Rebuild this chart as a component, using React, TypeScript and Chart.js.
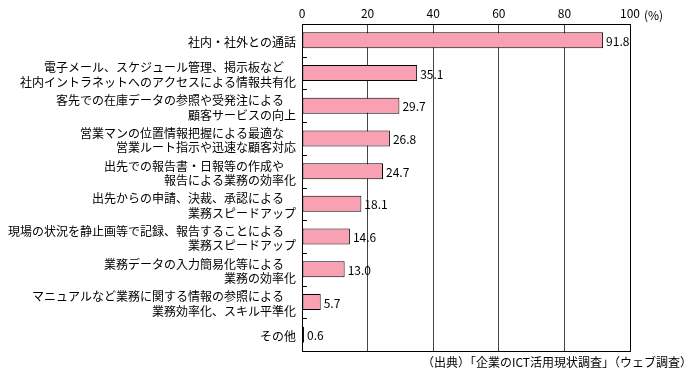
import React, { useEffect, useRef } from "react";
import { Chart, registerables } from "chart.js";

Chart.register(...registerables);

const categories: string[][] = [
  ["社内・社外との通話"],
  ["電子メール、スケジュール管理、掲示板など　", "社内イントラネットへのアクセスによる情報共有化"],
  ["客先での在庫データの参照や受発注による　", "顧客サービスの向上"],
  ["営業マンの位置情報把握による最適な　", "営業ルート指示や迅速な顧客対応"],
  ["出先での報告書・日報等の作成や　", "報告による業務の効率化"],
  ["出先からの申請、決裁、承認による　", "業務スピードアップ"],
  ["現場の状況を静止画等で記録、報告することによる　", "業務スピードアップ"],
  ["業務データの入力簡易化等による　", "業務の効率化"],
  ["マニュアルなど業務に関する情報の参照による　", "業務効率化、スキル平準化"],
  ["その他"],
];
const values: number[] = [91.8, 35.1, 29.7, 26.8, 24.7, 18.1, 14.6, 13.0, 5.7, 0.6];
const xTicks: number[] = [0, 20, 40, 60, 80, 100];
const unitLabel = "(%)";
const sourceText = "（出典）「企業のICT活用現状調査」（ウェブ調査）";

const FONT = "'Noto Sans CJK JP', sans-serif";

const extras = {
  id: "extras",
  afterDraw(chart: any) {
    const { ctx, chartArea, scales } = chart;
    const x = scales.x;
    const y = scales.y;
    ctx.save();
    ctx.strokeStyle = "#000";
    ctx.lineWidth = 1;
    ctx.strokeRect(
      Math.round(chartArea.left) + 0.5,
      Math.round(chartArea.top) + 0.5,
      Math.round(chartArea.right - chartArea.left),
      Math.round(chartArea.bottom - chartArea.top)
    );
    const n = categories.length;
    for (let i = 0; i < n - 1; i++) {
      const yy = Math.round((y.getPixelForValue(i) + y.getPixelForValue(i + 1)) / 2) + 0.5;
      ctx.beginPath();
      ctx.moveTo(chartArea.left, yy);
      ctx.lineTo(chartArea.left + 5, yy);
      ctx.stroke();
    }
    ctx.fillStyle = "#000";
    ctx.font = `12px ${FONT}`;
    ctx.textAlign = "left";
    ctx.textBaseline = "middle";
    const meta = chart.getDatasetMeta(0);
    meta.data.forEach((bar: any, i: number) => {
      ctx.fillText(values[i].toFixed(1), bar.x + 3, bar.y + 1);
    });
    const x100 = x.getPixelForValue(100);
    ctx.fillText(unitLabel, x100 + 14, 15);
    ctx.textAlign = "right";
    ctx.fillText(sourceText, 692, 362);
    ctx.restore();
  },
};

export default function App() {
  const ref = useRef<HTMLCanvasElement>(null);
  useEffect(() => {
    if (!ref.current) return;
    const chart = new Chart(ref.current, {
      type: "bar",
      data: {
        labels: categories,
        datasets: [
          {
            data: values,
            backgroundColor: "#F9A0B2",
            borderColor: "#000",
            borderWidth: 1,
            borderSkipped: false,
            barPercentage: 0.49,
            categoryPercentage: 1,
          },
        ],
      },
      plugins: [extras],
      options: {
        indexAxis: "y",
        animation: false,
        responsive: false,
        devicePixelRatio: 1,
        layout: { padding: { left: 0, right: 70, top: 0, bottom: 32 } },
        plugins: { legend: { display: false }, tooltip: { enabled: false } },
        scales: {
          x: {
            position: "top",
            min: 0,
            max: 100,
            afterBuildTicks: (s: any) => {
              s.ticks = xTicks.map((v) => ({ value: v }));
            },
            afterFit: (s: any) => {
              s.height = 24;
            },
            ticks: {
              color: "#000",
              padding: 3,
              font: { family: FONT, size: 12 },
              maxRotation: 0,
            },
            grid: {
              drawTicks: false,
              color: (c: any) => (c.tick && (c.tick.value === 0 || c.tick.value === 100) ? "#000" : "#444"),
              lineWidth: 1,
            },
            border: { color: "#000" },
          },
          y: {
            afterFit: (s: any) => {
              s.width = 302;
            },
            ticks: {
              color: "#000",
              padding: 6,
              labelOffset: 2,
              font: { family: FONT, size: 12, lineHeight: 1.2 },
              autoSkip: false,
            },
            grid: { display: false, drawTicks: false },
            border: { color: "#000" },
          },
        },
      },
    });
    return () => chart.destroy();
  }, []);
  return (
    <div style={{ position: "absolute", left: 0, top: 0, width: 700, height: 383, background: "#fff" }}>
      <canvas ref={ref} width={700} height={383} style={{ width: 700, height: 383 }} />
    </div>
  );
}
